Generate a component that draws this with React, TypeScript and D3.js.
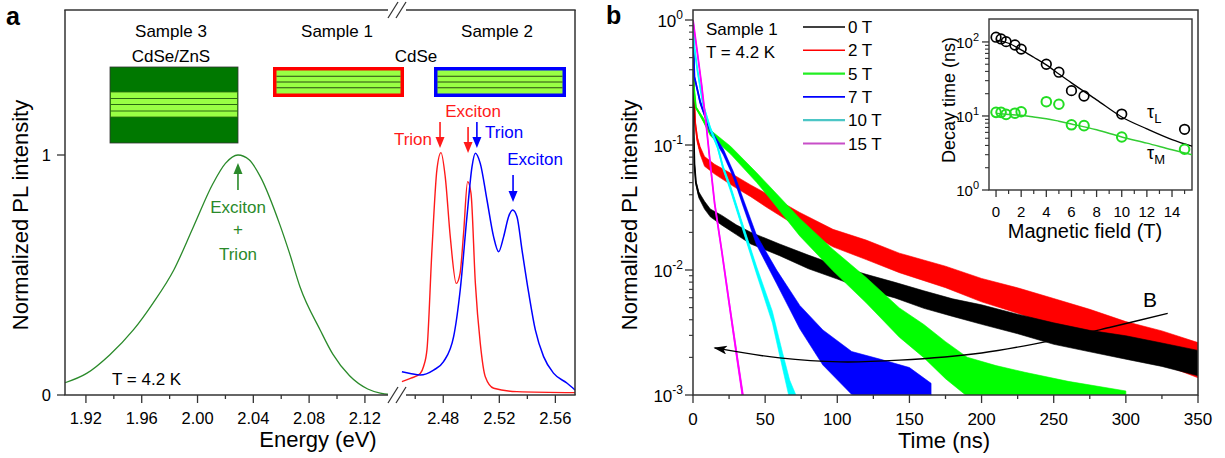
import React from "react";
import * as d3 from "d3";

const FONT = "'Liberation Sans', Arial, Helvetica, sans-serif";

// ---------------- Panel a data ----------------
const s3Energy = [1.905, 1.9205, 1.937, 1.954, 1.968, 1.983, 1.997, 2.011, 2.02, 2.029, 2.037, 2.045, 2.059, 2.066, 2.0735, 2.088, 2.097, 2.109, 2.122, 2.131, 2.138];
const s3Int = [0.051, 0.09, 0.167, 0.271, 0.382, 0.521, 0.70, 0.88, 0.965, 1.0, 0.98, 0.91, 0.71, 0.59, 0.45, 0.27, 0.17, 0.08, 0.025, 0.008, 0.003];

const s1Energy = [2.4505, 2.457, 2.4636, 2.466, 2.4684, 2.4719, 2.4755, 2.4784, 2.4814, 2.485, 2.4893, 2.492, 2.4945, 2.4974, 2.4998, 2.5029, 2.5064, 2.51, 2.516, 2.5326, 2.574];
const s1Int = [0.056, 0.07, 0.09, 0.12, 0.19, 0.6, 0.94, 1.01, 0.91, 0.66, 0.465, 0.507, 0.674, 0.889, 0.84, 0.466, 0.216, 0.076, 0.028, 0.014, 0.01];

const s2Energy = [2.4505, 2.4564, 2.4636, 2.4731, 2.4802, 2.4874, 2.4921, 2.4969, 2.5005, 2.5029, 2.5064, 2.5112, 2.5159, 2.5195, 2.5231, 2.5266, 2.5295, 2.5326, 2.5362, 2.541, 2.5457, 2.5516, 2.5588, 2.5684, 2.574];
const s2Int = [0.097, 0.09, 0.083, 0.104, 0.139, 0.243, 0.4375, 0.743, 0.951, 1.007, 0.965, 0.8125, 0.66, 0.597, 0.66, 0.743, 0.771, 0.743, 0.604, 0.424, 0.271, 0.16, 0.09, 0.049, 0.021];

const aTicksLeft = [1.92, 1.96, 2.0, 2.04, 2.08, 2.12];
const aMinorLeft = [1.94, 1.98, 2.02, 2.06, 2.1];
const aTicksRight = [2.48, 2.52, 2.56];
const aMinorRight = [2.46, 2.5, 2.54];
const aYTicks = [0, 1];

// ---------------- Panel b data ----------------
const t0T = [0, 0.5, 1, 2, 4, 8, 12, 20, 30, 40, 60, 80, 100, 120, 140, 160, 180, 200, 225, 250, 275, 300, 325, 350];
const v0T = [1.0, 0.12, 0.07, 0.05, 0.04, 0.033, 0.0286, 0.025, 0.021, 0.018, 0.0145, 0.0116, 0.0096, 0.008, 0.0069, 0.0058, 0.005, 0.0044, 0.0037, 0.0031, 0.0027, 0.0024, 0.0021, 0.0018];
const n0T = [0, 0, 0.01, 0.02, 0.03, 0.04, 0.04, 0.05, 0.05, 0.06, 0.06, 0.07, 0.07, 0.08, 0.08, 0.09, 0.09, 0.1, 0.1, 0.11, 0.11, 0.12, 0.12, 0.13];

const t2T = [0, 0.5, 1.5, 3, 5, 8, 15, 28, 40, 51, 74, 97, 120, 143, 175, 200, 225, 250, 275, 300, 325, 350];
const v2T = [1.0, 0.3, 0.15, 0.11, 0.09, 0.074, 0.064, 0.052, 0.043, 0.036, 0.025, 0.018, 0.0145, 0.0114, 0.0088, 0.0069, 0.0057, 0.0046, 0.0037, 0.0029, 0.0024, 0.0019];
const n2T = [0, 0, 0.02, 0.03, 0.04, 0.05, 0.05, 0.06, 0.06, 0.07, 0.08, 0.09, 0.1, 0.1, 0.11, 0.12, 0.13, 0.14, 0.15, 0.16, 0.17, 0.18];

const t5T = [0, 0.5, 2, 7, 12, 26, 44, 53, 74, 97, 120, 143, 160, 175, 190, 210, 230, 260, 300];
const v5T = [1.0, 0.3, 0.2, 0.16, 0.125, 0.091, 0.055, 0.042, 0.022, 0.012, 0.0069, 0.0038, 0.0027, 0.0019, 0.0014, 0.0012, 0.0011, 0.001, 0.0009];
const n5T = [0, 0, 0.01, 0.02, 0.03, 0.04, 0.05, 0.06, 0.09, 0.11, 0.13, 0.15, 0.17, 0.19, 0.2, 0.2, 0.18, 0.14, 0.1];

const t7T = [0, 0.5, 1, 5, 12, 21, 28, 35, 44, 58, 74, 90, 110, 130, 150, 165];
const v7T = [1.0, 0.5, 0.35, 0.22, 0.13, 0.088, 0.058, 0.034, 0.0174, 0.0088, 0.0042, 0.0024, 0.0015, 0.0013, 0.0012, 0.001];
const n7T = [0, 0, 0.01, 0.02, 0.02, 0.03, 0.03, 0.04, 0.05, 0.07, 0.12, 0.18, 0.22, 0.22, 0.18, 0.12];

const t10T = [0, 1, 3, 7, 12, 17, 21, 26, 33, 44, 55, 62, 67, 72];
const v10T = [1.0, 0.6, 0.4, 0.21, 0.135, 0.097, 0.065, 0.045, 0.025, 0.01, 0.0042, 0.0019, 0.0011, 0.0008];
const n10T = [0, 0, 0.01, 0.01, 0.02, 0.02, 0.02, 0.03, 0.03, 0.04, 0.06, 0.08, 0.1, 0.1];

const t15T = [0, 3, 6, 9, 12, 15, 20, 25, 30, 35, 38];
const v15T = [1.0, 0.55, 0.3, 0.15, 0.07, 0.034, 0.014, 0.0055, 0.0022, 0.0009, 0.0006];
const n15T = [0, 0, 0.01, 0.01, 0.02, 0.02, 0.02, 0.03, 0.04, 0.05, 0.05];

const fieldLabels = ["0 T", "2 T", "5 T", "7 T", "10 T", "15 T"];
const fieldColors = ["#000000", "#ff0000", "#00ff00", "#0000ff", "#00ffff", "#ff00ff"];
const legendColors = ["#000000", "#ff0000", "#22ee22", "#0000ff", "#4cc6c6", "#c84ec8"];

const bXTicks = [0, 50, 100, 150, 200, 250, 300, 350];
const bXMinor = [25, 75, 125, 175, 225, 275, 325];
const bYDecades = [0, -1, -2, -3];

const arrowT = [329, 290, 250, 200, 143, 102, 60, 15];
const arrowV = [0.0045, 0.0035, 0.00275, 0.00217, 0.0019, 0.00184, 0.00198, 0.00238];

// ---------------- Inset data ----------------
const insetField = [0, 0.4, 0.8, 1.5, 2, 4, 5, 6, 7, 10, 15];
const tauL = [116, 110, 101, 91, 80, 50, 39, 22, 18.6, 10.6, 6.6];
const tauM = [11.2, 11.2, 10.5, 10.9, 11.4, 15.6, 14.4, 7.6, 7.4, 5.2, 3.55];
const fitField = [0, 1, 2, 3, 4, 5, 6, 8, 10, 12, 14, 15.6];
const tauLFit = [106, 96, 78, 62, 49, 37, 28, 16.5, 9.7, 6.7, 4.8, 3.9];
const tauMFit = [10.8, 10.5, 10.2, 9.7, 9.2, 8.5, 7.8, 6.5, 5.2, 4.3, 3.5, 3.0];
const insetXTicks = [0, 2, 4, 6, 8, 10, 12, 14];
const insetXMinor = [1, 3, 5, 7, 9, 11, 13, 15];
const insetYDecades = [0, 1, 2];

// ---------------- Scales ----------------
const xa1 = d3.scaleLinear().domain([1.905, 2.143]).range([65, 397]);
const xa2 = d3.scaleLinear().domain([2.447, 2.574]).range([397, 575]);
const ya = d3.scaleLinear().domain([0, 1]).range([395, 155]);

const xb = d3.scaleLinear().domain([0, 350]).range([693, 1198]);
const yb = d3.scaleLog().domain([1e-3, Math.pow(10, 0.08)]).range([395, 10]);

const xi = d3.scaleLinear().domain([-0.56, 15.59]).range([989, 1192]);
const yi = d3.scaleLog().domain([1, Math.pow(10, 2.31)]).range([190, 19]);

const AX = "#333";

function spectrum(xs: number[], ys: number[], xs_: d3.ScaleLinear<number, number>) {
  return d3
    .line<number>()
    .x((_, i) => xs_(xs[i]))
    .y((d) => ya(d))
    .curve(d3.curveMonotoneX)(ys) as string;
}

function DownArrow({ x, y1, y2, color }: { x: number; y1: number; y2: number; color: string }) {
  const h = 11;
  return (
    <g>
      <line x1={x} x2={x} y1={y1} y2={y2 - h + 1} stroke={color} strokeWidth={1.6} />
      <path d={`M${x - 4.5},${y2 - h} L${x + 4.5},${y2 - h} L${x},${y2} Z`} fill={color} />
    </g>
  );
}

function UpArrow({ x, y1, y2, color }: { x: number; y1: number; y2: number; color: string }) {
  const h = 11;
  return (
    <g>
      <line x1={x} x2={x} y1={y1} y2={y2 + h - 1} stroke={color} strokeWidth={1.6} />
      <path d={`M${x - 4.5},${y2 + h} L${x + 4.5},${y2 + h} L${x},${y2} Z`} fill={color} />
    </g>
  );
}

function SampleBox({ x, y, w, h, border }: { x: number; y: number; w: number; h: number; border: string }) {
  const bw = 3.5;
  const ix = x + bw;
  const iw = w - 2 * bw;
  const iy = y + bw;
  const ih = h - 2 * bw;
  return (
    <g>
      <rect x={x} y={y} width={w} height={h} fill={border} />
      <rect x={ix} y={iy} width={iw} height={ih} fill="#99ff44" />
      {[0.25, 0.5, 0.75].map((f) => (
        <line key={f} x1={ix} x2={ix + iw} y1={iy + ih * f} y2={iy + ih * f} stroke="#2a4a10" strokeWidth={1} />
      ))}
    </g>
  );
}

function band(t: number[], v: number[], n: number[], k: number) {
  return d3
    .area<number>()
    .x((_, i) => xb(t[i]))
    .y0((m, i) => yb(m * Math.pow(10, -n[i] * k)))
    .y1((m, i) => yb(m * Math.pow(10, n[i] * k)))(v) as string;
}

function Decay({ t, v, n, color }: { t: number[]; v: number[]; n: number[]; color: string }) {
  const line = d3
    .line<number>()
    .x((_, i) => xb(t[i]))
    .y((m) => yb(m))(v) as string;
  return (
    <g>
      <path d={band(t, v, n, 0.78)} fill={color} stroke={color} strokeWidth={0.6} />
      <path d={line} fill="none" stroke={color} strokeWidth={1.8} />
    </g>
  );
}

function Slashes({ cx, cy }: { cx: number; cy: number }) {
  return (
    <g>
      <rect x={cx - 9} y={cy - 8} width={18} height={16} fill="#fff" />
      {[-4, 4].map((o) => (
        <line key={o} x1={cx + o - 5} y1={cy + 8} x2={cx + o + 5} y2={cy - 8} stroke={AX} strokeWidth={1.3} />
      ))}
    </g>
  );
}

export default function App() {
  const greenC = "#2a8a2a";
  const redC = "#ff1a1a";
  const blueC = "#0000ff";

  const arrowPath = d3
    .line<number>()
    .x((_, i) => xb(arrowT[i]))
    .y((v) => yb(v))
    .curve(d3.curveCatmullRom)(arrowV) as string;

  const fitL = d3.line<number>().x((_, i) => xi(fitField[i])).y((v) => yi(v)).curve(d3.curveMonotoneX)(tauLFit) as string;
  const fitM = d3.line<number>().x((_, i) => xi(fitField[i])).y((v) => yi(v)).curve(d3.curveMonotoneX)(tauMFit) as string;

  const bMinorY: number[] = [];
  [-3, -2, -1].forEach((d) => {
    for (let m = 2; m <= 9; m++) bMinorY.push(m * Math.pow(10, d));
  });
  const iMinorY: number[] = [];
  [0, 1].forEach((d) => {
    for (let m = 2; m <= 9; m++) iMinorY.push(m * Math.pow(10, d));
  });

  const decays = [
    { t: t2T, v: v2T, n: n2T, c: fieldColors[1] },
    { t: t0T, v: v0T, n: n0T, c: fieldColors[0] },
    { t: t5T, v: v5T, n: n5T, c: fieldColors[2] },
    { t: t7T, v: v7T, n: n7T, c: fieldColors[3] },
    { t: t10T, v: v10T, n: n10T, c: fieldColors[4] },
    { t: t15T, v: v15T, n: n15T, c: fieldColors[5] },
  ];

  return (
    <svg
      width={1225}
      height={458}
      style={{ position: "absolute", left: 0, top: 0, background: "#fff" }}
      fontFamily={FONT}
    >
      <defs>
        <clipPath id="clipB">
          <rect x={693} y={10} width={505} height={385} />
        </clipPath>
        <clipPath id="clipI">
          <rect x={989} y={19} width={203} height={171} />
        </clipPath>
        <marker id="arrowB" viewBox="0 0 12 8" refX={11} refY={4} markerWidth={14} markerHeight={9} orient="auto" markerUnits="userSpaceOnUse">
          <path d="M0,0 L12,4 L0,8 L3,4 Z" fill="#000" />
        </marker>
      </defs>
      <rect x={0} y={0} width={1225} height={458} fill="#fff" />

      {/* ================= PANEL A ================= */}
      <text x={6} y={25} fontSize={25} fontWeight="bold">a</text>

      <path d={spectrum(s3Energy, s3Int, xa1)} fill="none" stroke={greenC} strokeWidth={1.3} />
      <path d={spectrum(s1Energy, s1Int, xa2)} fill="none" stroke={redC} strokeWidth={1.4} />
      <path d={spectrum(s2Energy, s2Int, xa2)} fill="none" stroke={blueC} strokeWidth={1.5} />

      <line x1={65} x2={65} y1={10} y2={395} stroke={AX} strokeWidth={1.5} />
      <line x1={575} x2={575} y1={10} y2={395} stroke={AX} strokeWidth={1.5} />
      <line x1={64.3} x2={575.7} y1={395} y2={395} stroke={AX} strokeWidth={1.5} />
      <line x1={64.3} x2={575.7} y1={10} y2={10} stroke={AX} strokeWidth={1.5} />
      <Slashes cx={397} cy={395} />
      <Slashes cx={397} cy={10} />

      {aTicksLeft.map((v) => (
        <g key={"al" + v}>
          <line x1={xa1(v)} x2={xa1(v)} y1={395} y2={403} stroke={AX} strokeWidth={1.3} />
          <text x={xa1(v)} y={424} fontSize={16.5} textAnchor="middle">{v.toFixed(2)}</text>
        </g>
      ))}
      {aMinorLeft.map((v) => (
        <line key={"aml" + v} x1={xa1(v)} x2={xa1(v)} y1={395} y2={399} stroke={AX} strokeWidth={1.3} />
      ))}
      {aTicksRight.map((v) => (
        <g key={"ar" + v}>
          <line x1={xa2(v)} x2={xa2(v)} y1={395} y2={403} stroke={AX} strokeWidth={1.3} />
          <text x={xa2(v)} y={424} fontSize={16.5} textAnchor="middle">{v.toFixed(2)}</text>
        </g>
      ))}
      {aMinorRight.map((v) => (
        <line key={"amr" + v} x1={xa2(v)} x2={xa2(v)} y1={395} y2={399} stroke={AX} strokeWidth={1.3} />
      ))}
      {aYTicks.map((v) => (
        <g key={"ay" + v}>
          <line x1={57} x2={65} y1={ya(v)} y2={ya(v)} stroke={AX} strokeWidth={1.3} />
          <text x={51} y={ya(v) + 6} fontSize={16.5} textAnchor="end">{v}</text>
        </g>
      ))}
      <text x={318} y={447} fontSize={22} textAnchor="middle">Energy (eV)</text>
      <text transform="translate(28,215) rotate(-90)" fontSize={22} textAnchor="middle">Normalized PL intensity</text>

      <text x={171} y={37} fontSize={17} textAnchor="middle">Sample 3</text>
      <text x={171} y={62} fontSize={17} textAnchor="middle">CdSe/ZnS</text>
      <rect x={110} y={67} width={128} height={76} fill="#007800" stroke="#333" strokeWidth={0.8} />
      <rect x={110.5} y={92} width={127} height={25} fill="#99ff44" stroke="#2a6a10" strokeWidth={0.8} />
      {[98.5, 104.5, 111].map((yy) => (
        <line key={yy} x1={110.5} x2={237.5} y1={yy} y2={yy} stroke="#2a6a10" strokeWidth={1} />
      ))}
      <text x={337} y={37} fontSize={17} textAnchor="middle">Sample 1</text>
      <text x={497} y={37} fontSize={17} textAnchor="middle">Sample 2</text>
      <text x={416} y={62} fontSize={17} textAnchor="middle">CdSe</text>
      <SampleBox x={273} y={67} w={131} h={30} border="#ff0000" />
      <SampleBox x={434} y={67} w={132} h={30} border="#0000ff" />

      <UpArrow x={xa1(2.029)} y1={ya(0.854)} y2={ya(0.967)} color={greenC} />
      <text x={238} y={213} fontSize={17} textAnchor="middle" fill={greenC}>Exciton</text>
      <text x={238} y={235} fontSize={17} textAnchor="middle" fill={greenC}>+</text>
      <text x={238} y={260} fontSize={17} textAnchor="middle" fill={greenC}>Trion</text>
      <text x={112} y={385} fontSize={17}>T = 4.2 K</text>

      <text x={432} y={145} fontSize={17} textAnchor="end" fill={redC}>Trion</text>
      <text x={473} y={117} fontSize={17} textAnchor="middle" fill={redC}>Exciton</text>
      <text x={485} y={138} fontSize={17} fill={blueC}>Trion</text>
      <text x={535} y={165} fontSize={17} textAnchor="middle" fill={blueC}>Exciton</text>
      <DownArrow x={xa2(2.4777)} y1={ya(1.1375)} y2={ya(1.029)} color={redC} />
      <DownArrow x={xa2(2.4977)} y1={ya(1.117)} y2={ya(1.008)} color={redC} />
      <DownArrow x={xa2(2.504)} y1={ya(1.1375)} y2={ya(1.029)} color={blueC} />
      <DownArrow x={xa2(2.5298)} y1={ya(0.917)} y2={ya(0.804)} color={blueC} />

      {/* ================= PANEL B ================= */}
      <text x={606} y={24} fontSize={25} fontWeight="bold">b</text>

      <g clipPath="url(#clipB)">
        {decays.map((d, i) => (
          <Decay key={i} t={d.t} v={d.v} n={d.n} color={d.c} />
        ))}
      </g>
      <path d={arrowPath} fill="none" stroke="#000" strokeWidth={1.4} markerEnd="url(#arrowB)" />
      <text x={1143} y={307} fontSize={21}>B</text>

      <rect x={693} y={10} width={505} height={385} fill="none" stroke={AX} strokeWidth={1.5} />
      {bXTicks.map((v) => (
        <g key={"bx" + v}>
          <line x1={xb(v)} x2={xb(v)} y1={395} y2={403} stroke={AX} strokeWidth={1.3} />
          <text x={xb(v)} y={425} fontSize={17} textAnchor="middle">{v}</text>
        </g>
      ))}
      {bXMinor.map((v) => (
        <line key={"bxm" + v} x1={xb(v)} x2={xb(v)} y1={395} y2={399} stroke={AX} strokeWidth={1.3} />
      ))}
      {bYDecades.map((d) => (
        <g key={"by" + d}>
          <line x1={685} x2={693} y1={yb(Math.pow(10, d))} y2={yb(Math.pow(10, d))} stroke={AX} strokeWidth={1.3} />
          <text x={683} y={yb(Math.pow(10, d)) + 7} fontSize={17} textAnchor="end">
            10<tspan dy={-8} fontSize={12}>{d}</tspan>
          </text>
        </g>
      ))}
      {bMinorY.map((v, i) => (
        <line key={"bym" + i} x1={689} x2={693} y1={yb(v)} y2={yb(v)} stroke={AX} strokeWidth={1.1} />
      ))}
      <text x={944} y={448} fontSize={22} textAnchor="middle">Time (ns)</text>
      <text transform="translate(637,215) rotate(-90)" fontSize={22} textAnchor="middle">Normalized PL intensity</text>

      <text x={706} y={35} fontSize={17}>Sample 1</text>
      <text x={706} y={58} fontSize={17}>T = 4.2 K</text>

      {fieldLabels.map((lab, i) => {
        const y = 27 + i * 23.3;
        return (
          <g key={lab}>
            <line x1={803} x2={845} y1={y} y2={y} stroke={legendColors[i]} strokeWidth={i >= 2 && i !== 3 ? 2.2 : 1.6} />
            <text x={848} y={y + 6} fontSize={17}>{lab}</text>
          </g>
        );
      })}

      {/* ================= INSET ================= */}
      <rect x={989} y={19} width={203} height={171} fill="#fff" stroke={AX} strokeWidth={1.4} />
      <g clipPath="url(#clipI)">
        <path d={fitL} fill="none" stroke="#000" strokeWidth={1.3} />
        <path d={fitM} fill="none" stroke="#33cc33" strokeWidth={1.5} />
      </g>
      {insetField.map((b, i) => (
        <circle key={"cl" + i} cx={xi(b)} cy={yi(tauL[i])} r={4.8} fill="none" stroke="#000" strokeWidth={1.7} />
      ))}
      {insetField.map((b, i) => (
        <circle key={"cm" + i} cx={xi(b)} cy={yi(tauM[i])} r={4.8} fill="none" stroke="#22dd22" strokeWidth={2} />
      ))}
      {insetXTicks.map((v) => (
        <g key={"ix" + v}>
          <line x1={xi(v)} x2={xi(v)} y1={190} y2={197} stroke={AX} strokeWidth={1.3} />
          <text x={xi(v)} y={217} fontSize={15} textAnchor="middle">{v}</text>
        </g>
      ))}
      {insetXMinor.map((v) => (
        <line key={"ixm" + v} x1={xi(v)} x2={xi(v)} y1={190} y2={194} stroke={AX} strokeWidth={1.2} />
      ))}
      {insetYDecades.map((d) => (
        <g key={"iy" + d}>
          <line x1={982} x2={989} y1={yi(Math.pow(10, d))} y2={yi(Math.pow(10, d))} stroke={AX} strokeWidth={1.3} />
          <text x={979} y={yi(Math.pow(10, d)) + 6} fontSize={15} textAnchor="end">
            10<tspan dy={-7} fontSize={11}>{d}</tspan>
          </text>
        </g>
      ))}
      {iMinorY.map((v, i) => (
        <line key={"iym" + i} x1={985} x2={989} y1={yi(v)} y2={yi(v)} stroke={AX} strokeWidth={1.1} />
      ))}
      <text transform="translate(955,100) rotate(-90)" fontSize={18} textAnchor="middle">Decay time (ns)</text>
      <text x={1085} y={238} fontSize={20} textAnchor="middle">Magnetic field (T)</text>
      <text x={1147} y={118} fontSize={18}>τ<tspan dy={5} fontSize={13}>L</tspan></text>
      <text x={1147} y={159} fontSize={18}>τ<tspan dy={5} fontSize={13}>M</tspan></text>
    </svg>
  );
}
